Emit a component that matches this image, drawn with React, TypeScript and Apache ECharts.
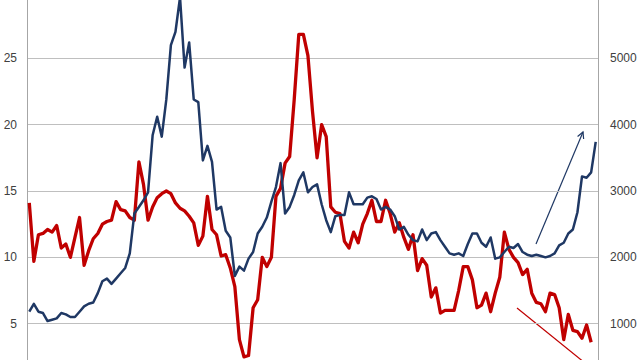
import React, { useEffect, useRef } from "react";
import * as echarts from "echarts";

// Red series (left axis)
const redValues: number[] = [
  14.1, 9.7, 11.7, 11.8, 12.1, 11.9, 12.4, 10.7, 11.0, 10.0,
  11.5, 13.0, 9.4, 10.5, 11.4, 11.8, 12.5, 12.7, 12.8, 14.2,
  13.6, 13.5, 13.0, 12.8, 17.2, 15.5, 12.8, 13.8, 14.5, 14.8,
  15.0, 14.8, 14.1, 13.7, 13.5, 13.1, 12.6, 10.9, 11.6, 14.6,
  12.1, 11.7, 10.1, 10.2, 9.2, 7.8, 3.8, 2.5, 2.6, 6.2,
  6.8, 10.0, 9.3, 10.0, 14.6, 15.2, 17.1, 17.6, 21.9, 26.8,
  26.8, 25.2, 21.0, 17.5, 20.0, 19.1, 13.8, 13.4, 13.3, 11.2,
  10.7, 11.9, 11.1, 12.5, 13.3, 14.3, 12.7, 12.7, 14.3, 13.3,
  11.9, 12.6, 11.5, 10.6, 11.7, 9.0, 9.9, 9.4, 7.0, 7.7,
  5.8, 6.0, 6.0, 6.0, 7.5, 9.3, 9.3, 8.3, 6.2, 6.4,
  7.3, 5.9, 7.3, 8.5, 11.9, 10.6, 10.0, 9.6, 8.7, 9.1,
  7.3, 6.6, 6.5, 5.9, 7.3, 7.2, 6.2, 3.8, 5.7, 4.5,
  4.4, 3.9, 4.9, 3.6,
];

// Blue series (right axis)
const blueValues: number[] = [
  1180, 1300, 1180, 1160, 1040, 1060, 1080, 1160, 1140, 1100,
  1100, 1180, 1260, 1300, 1320, 1460, 1640, 1680, 1600, 1680,
  1760, 1840, 2060, 2660, 2760, 2860, 2980, 3840, 4120, 3820,
  4380, 5200, 5400, 5920, 4860, 5240, 4380, 4340, 3460, 3680,
  3440, 2720, 2760, 2400, 2300, 1720, 1860, 1800, 1980, 2080,
  2360, 2460, 2600, 2840, 3060, 3420, 2660, 2760, 2940, 3160,
  3280, 2980, 3060, 3100, 2800, 2560, 2380, 2620, 2640, 2640,
  2980, 2800, 2800, 2800, 2900, 2920, 2880, 2720, 2760, 2720,
  2620, 2420, 2460, 2340, 2260, 2240, 2420, 2260, 2360, 2380,
  2260, 2160, 2060, 2040, 2060, 2020, 2200, 2360, 2360, 2220,
  2160, 2300, 1980, 2000, 2080, 2160, 2140, 2200, 2080, 2040,
  2020, 2040, 2020, 2000, 2020, 2060, 2180, 2220, 2360, 2420,
  2680, 3220, 3200, 3280, 3740,
];

const categories: string[] = blueValues.map((_, i) => String(i + 1));

const leftTicks = { min: 0, max: 30, interval: 5 };
const rightTicks = { min: 0, max: 6000, interval: 1000 };

const RED = "#C00000";
const BLUE = "#1F3864";

function arrowGraphics(x1: number, y1: number, x2: number, y2: number, color: string, head: boolean) {
  const els: any[] = [
    {
      type: "line",
      shape: { x1, y1, x2, y2 },
      style: { stroke: color, lineWidth: 1.2 },
      silent: true,
    },
  ];
  if (head) {
    const dx = x2 - x1;
    const dy = y2 - y1;
    const len = Math.sqrt(dx * dx + dy * dy);
    const bx = -dx / len;
    const by = -dy / len;
    const a = (28 * Math.PI) / 180;
    const L = 7;
    const c = Math.cos(a);
    const s = Math.sin(a);
    const p1 = [x2 + L * (bx * c - by * s), y2 + L * (bx * s + by * c)];
    const p2 = [x2 + L * (bx * c + by * s), y2 + L * (-bx * s + by * c)];
    els.push({
      type: "polyline",
      shape: { points: [p1, [x2, y2], p2] },
      style: { stroke: color, lineWidth: 1.2, fill: "none" },
      silent: true,
    });
  }
  return els;
}

export default function App() {
  const ref = useRef<HTMLDivElement>(null);
  useEffect(() => {
    document.body.style.margin = "0";
    if (!ref.current) return;
    const chart = echarts.init(ref.current, undefined, { renderer: "svg" });
    const labelStyle = {
      color: "#404040",
      fontSize: 12,
      fontFamily: "Liberation Sans, Arial, sans-serif",
      showMinLabel: false,
      showMaxLabel: false,
    };
    chart.setOption({
      animation: false,
      backgroundColor: "#ffffff",
      grid: {
        left: 27,
        right: 42,
        top: -8,
        bottom: -30,
        containLabel: false,
        outerBoundsMode: "none",
      },
      xAxis: {
        type: "category",
        data: categories,
        boundaryGap: true,
        axisLine: { show: false },
        axisTick: { show: false },
        axisLabel: { show: false },
        splitLine: { show: false },
      },
      yAxis: [
        {
          type: "value",
          position: "left",
          ...leftTicks,
          axisLine: { show: true, lineStyle: { color: "#A6A6A6", width: 1 } },
          axisTick: { show: false },
          axisLabel: { ...labelStyle, margin: 10 },
          splitLine: { show: true, lineStyle: { color: "#BFBFBF", width: 1 } },
        },
        {
          type: "value",
          position: "right",
          ...rightTicks,
          axisLine: { show: true, lineStyle: { color: "#A6A6A6", width: 1 } },
          axisTick: { show: false },
          axisLabel: {
            ...labelStyle,
            margin: 12,
            formatter: (v: number) => String(v),
          },
          splitLine: { show: false },
        },
      ],
      series: [
        {
          type: "line",
          name: "red",
          yAxisIndex: 0,
          data: redValues,
          showSymbol: false,
          symbol: "none",
          lineStyle: { color: RED, width: 3.3, join: "round" },
          itemStyle: { color: RED },
          z: 2,
        },
        {
          type: "line",
          name: "blue",
          yAxisIndex: 1,
          data: blueValues,
          showSymbol: false,
          symbol: "none",
          lineStyle: { color: BLUE, width: 2.5, join: "round" },
          itemStyle: { color: BLUE },
          z: 3,
        },
      ],
      graphic: [
        ...arrowGraphics(536, 244, 583, 132, BLUE, true),
        ...arrowGraphics(517, 308, 585, 363, RED, false),
      ],
    });
    return () => chart.dispose();
  }, []);
  return (
    <div
      ref={ref}
      style={{ position: "absolute", left: 0, top: 0, width: 640, height: 360 }}
    />
  );
}
